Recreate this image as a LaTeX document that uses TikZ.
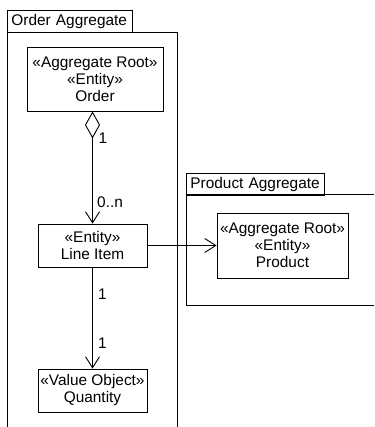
\documentclass[tikz,border=0pt]{standalone}
\usepackage{fontspec}
\setmainfont{Liberation Sans}
\usepackage{tikz}
\usetikzlibrary{arrows.meta}

\begin{document}
\begin{tikzpicture}[x=1pt,y=-1pt,
		umlclass/.style={draw,line width=0.9pt,align=center,inner sep=0pt,font=\fontsize{15.4}{17}\selectfont},
		pkgtab/.style={draw,line width=0.9pt,anchor=north west,minimum height=22pt,inner xsep=4pt,inner ysep=0pt,align=left,font=\fontsize{15.4}{17}\selectfont},
		pkgbody/.style={draw,line width=0.9pt},
		assoc/.style={line width=0.9pt,-{Straight Barb[length=11pt,width=14pt]}},
		aggr/.style={line width=0.9pt,{Diamond[open,length=27pt,width=15pt]}-{Straight Barb[length=11pt,width=14pt]}},
		mult/.style={anchor=west,inner sep=0pt,font=\fontsize{15.4}{17}\selectfont}]
			\clip (0,0) rectangle (374,427);
			% Order Aggregate
			\draw[pkgbody] (7,32) rectangle (177,440);
			\node[pkgtab,text width=117pt] (orderTab) at (7,10) {Order Aggregate};
			% Product Aggregate
			\draw[pkgbody] (186,194) rectangle (390,305);
			\node[pkgtab,text width=130pt] (productTab) at (186,173) {Product Aggregate};
			% classes
			\node[umlclass,minimum width=136pt,minimum height=64pt] (order) at (95,79) {«Aggregate Root»\\«Entity»\\Order};
			\node[umlclass,minimum width=109pt,minimum height=43pt] (lineItem) at (92.5,245.5) {«Entity»\\Line Item};
			\node[umlclass,minimum width=109pt,minimum height=43pt] (quantity) at (92.5,390.5) {«Value Object»\\Quantity};
			\node[umlclass,minimum width=131pt,minimum height=65pt] (product) at (282.5,245.5) {«Aggregate Root»\\«Entity»\\Product};
			% links
			\draw[aggr] (lineItem.north |- order.south) -- (lineItem.north);
			\node[mult] (m1) at (98.5,138) {1};
			\node[mult] (m2) at (97,202) {0..n};
			\draw[assoc] (lineItem) -- (product);
			\draw[assoc] (lineItem) -- (quantity);
			\node[mult] (m3) at (98,294) {1};
			\node[mult] (m4) at (98,343) {1};
		\end{tikzpicture}
\end{document}
